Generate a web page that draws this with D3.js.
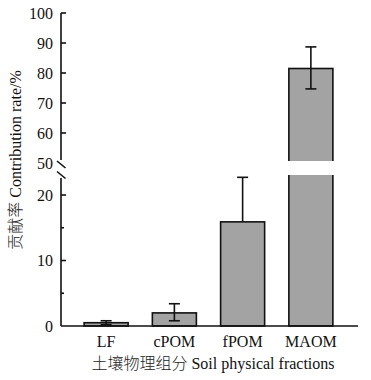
<!DOCTYPE html>
<html>
<head>
<meta charset="utf-8">
<script src="https://cdn.jsdelivr.net/npm/d3@7"></script>
<style>
  body { margin: 0; background: #fff; }
  text { font-family: "Liberation Serif", "Noto Sans CJK SC", serif; fill: #111; }
  .cjk { font-family: "Noto Sans CJK SC", sans-serif; font-weight: 300; fill: #222; }
</style>
</head>
<body>
<script>
// data
const categories = ["LF", "cPOM", "fPOM", "MAOM"];
const values = [0.5, 2.0, 15.9, 81.5];
const errUp = [0.3, 1.4, 6.8, 7.2];
const errDown = [0.3, 1.2, 0, 6.8];
const lowTicks = [0, 10, 20];
const lowMinor = [5, 15];
const upTicks = [50, 60, 70, 80, 90, 100];

const W = 371, H = 380;
const svg = d3.select("body").append("svg")
  .attr("width", W)
  .attr("height", H);

const axisX = 61, axisRight = 358;

// broken y axis: two linear pieces
const yLow = d3.scaleLinear().domain([0, 20]).range([326, 195]);
const yUp = d3.scaleLinear().domain([50, 100]).range([163, 13]);
const lowMax = 22.7;   // top of lower piece
const gapTop = 161, gapBottom = 175;

function y(v) { return v <= lowMax ? yLow(v) : yUp(v); }

const x = d3.scaleBand().domain(categories)
  .range([72, 345]).paddingInner(0.355).paddingOuter(0.1775);

// bars
const bars = svg.append("g");
bars.selectAll("rect").data(values).join("rect")
  .attr("x", (d, i) => x(categories[i]))
  .attr("width", x.bandwidth())
  .attr("y", d => y(d))
  .attr("height", d => yLow(0) - y(d))
  .attr("fill", "#a3a3a3")
  .attr("stroke", "#111")
  .attr("stroke-width", 1.6);

// error bars (lines drawn over bars)
const eb = svg.append("g").attr("stroke", "#111").attr("stroke-width", 1.6);
values.forEach((v, i) => {
  const cx = x(categories[i]) + x.bandwidth() / 2;
  const top = y(v + errUp[i]);
  const bot = y(v - errDown[i]);
  eb.append("line").attr("x1", cx).attr("x2", cx).attr("y1", top).attr("y2", bot);
  eb.append("line").attr("x1", cx - 5.5).attr("x2", cx + 5.5).attr("y1", top).attr("y2", top);
  if (errDown[i] > 0)
    eb.append("line").attr("x1", cx - 5.5).attr("x2", cx + 5.5).attr("y1", bot).attr("y2", bot);
});

// white gap through bars that cross the break
values.forEach((v, i) => {
  if (v > lowMax) {
    svg.append("rect")
      .attr("x", x(categories[i]) - 2)
      .attr("width", x.bandwidth() + 4)
      .attr("y", gapTop)
      .attr("height", gapBottom - gapTop)
      .attr("fill", "#fff");
  }
});

// axes
const ax = svg.append("g").attr("stroke", "#111").attr("stroke-width", 1.6);
ax.append("line").attr("x1", axisX).attr("x2", axisX).attr("y1", yUp(100)).attr("y2", 160);
ax.append("line").attr("x1", axisX).attr("x2", axisX).attr("y1", 178).attr("y2", yLow(0));
ax.append("line").attr("x1", 57).attr("x2", 65.5).attr("y1", 161).attr("y2", 168);
ax.append("line").attr("x1", 57).attr("x2", 65.5).attr("y1", 171.5).attr("y2", 178.5);
ax.append("line").attr("x1", axisX).attr("x2", axisRight).attr("y1", yLow(0)).attr("y2", yLow(0));

upTicks.filter(t => t > 50).forEach(t => {
  ax.append("line").attr("x1", axisX).attr("x2", axisX + 5).attr("y1", yUp(t)).attr("y2", yUp(t));
});
lowTicks.filter(t => t > 0).forEach(t => {
  ax.append("line").attr("x1", axisX).attr("x2", axisX + 5).attr("y1", yLow(t)).attr("y2", yLow(t));
});
lowMinor.forEach(t => {
  ax.append("line").attr("x1", axisX).attr("x2", axisX + 3).attr("y1", yLow(t)).attr("y2", yLow(t));
});

// tick labels
const tl = svg.append("g").attr("font-size", 16).attr("text-anchor", "end");
upTicks.forEach(t => {
  tl.append("text").attr("x", 53).attr("y", yUp(t)).attr("dy", "0.35em").text(t);
});
lowTicks.forEach(t => {
  tl.append("text").attr("x", 53).attr("y", yLow(t)).attr("dy", "0.35em").text(t);
});

svg.append("g").attr("font-size", 16).attr("text-anchor", "middle")
  .selectAll("text").data(categories).join("text")
  .attr("x", d => x(d) + x.bandwidth() / 2)
  .attr("y", 341)
  .attr("dy", "0.35em")
  .text(d => d);

// axis titles (CJK part in a lighter tspan)
const xt = svg.append("text")
  .attr("x", 213).attr("y", 363).attr("dy", "0.35em")
  .attr("text-anchor", "middle").attr("font-size", 16);
xt.append("tspan").attr("class", "cjk").text("土壤物理组分");
xt.append("tspan").text(" Soil physical fractions");

const yt = svg.append("text")
  .attr("transform", "translate(15,160) rotate(-90)")
  .attr("dy", "0.35em")
  .attr("text-anchor", "middle").attr("font-size", 16);
yt.append("tspan").attr("class", "cjk").text("贡献率");
yt.append("tspan").text(" Contribution rate/%");
</script>
</body>
</html>
